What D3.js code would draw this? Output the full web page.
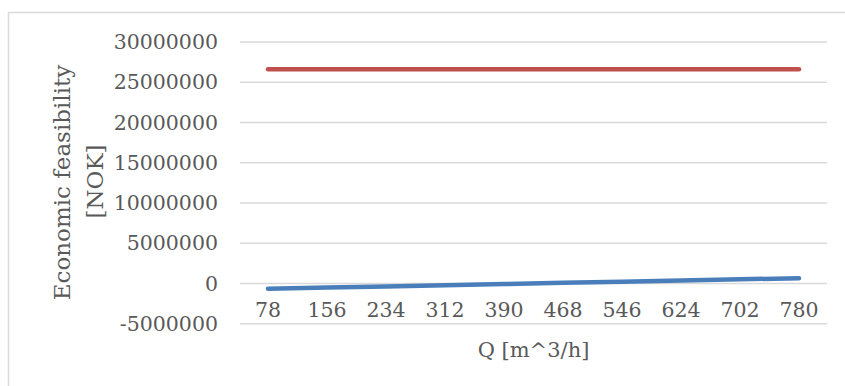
<!DOCTYPE html>
<html><head><meta charset="utf-8">
<script src="https://cdn.jsdelivr.net/npm/d3@7"></script>
<style>body{margin:0;background:#fff}svg{display:block}</style>
</head><body>
<script>
const categories = [78, 156, 234, 312, 390, 468, 546, 624, 702, 780];
const seriesBlue = [-660000, -513000, -367000, -220000, -73000, 73000, 220000, 367000, 513000, 660000];
const seriesRed = [26600000, 26600000, 26600000, 26600000, 26600000, 26600000, 26600000, 26600000, 26600000, 26600000];
const yTicks = [-5000000, 0, 5000000, 10000000, 15000000, 20000000, 25000000, 30000000];

const W = 845, H = 386;
const svg = d3.select("body").append("svg").attr("width", W).attr("height", H);
const font = "'DejaVu Serif', serif";
const txt = "#595959";

svg.append("rect").attr("x", 8.5).attr("y", 12.5).attr("width", 845).attr("height", 400)
  .attr("fill", "#fff").attr("stroke", "#d9d9d9").attr("stroke-width", 1.5);

const x = d3.scaleBand().domain(categories).range([238.5, 828.5]);
const y = d3.scaleLinear().domain([-5000000, 30000000]).range([323.7, 42]);

// gridlines
svg.append("g").selectAll("line").data(yTicks).join("line")
  .attr("x1", 240).attr("x2", 827)
  .attr("y1", d => y(d)).attr("y2", d => y(d))
  .attr("stroke", "#d9d9d9").attr("stroke-width", 1.5);

// y axis labels
const yAxis = d3.axisLeft(y).tickValues(yTicks).tickSize(0).tickPadding(0).tickFormat(d => String(d));
const gy = svg.append("g").attr("transform", "translate(218,0)").call(yAxis);
gy.select(".domain").remove();
gy.selectAll("text").attr("font-family", font).attr("font-size", 20.5).attr("fill", txt);

// x axis labels
const xAxis = d3.axisBottom(x).tickSize(0).tickPadding(0);
const gx = svg.append("g").attr("transform", "translate(0,302)").call(xAxis);
gx.select(".domain").remove();
gx.selectAll("text").attr("font-family", font).attr("font-size", 20.5).attr("fill", txt).attr("dy", "0.71em");

const line = d3.line().x((d, i) => x(categories[i]) + x.bandwidth() / 2).y(d => y(d));
svg.append("path").datum(seriesRed).attr("d", line).attr("fill", "none")
  .attr("stroke", "#c0504d").attr("stroke-width", 4.5).attr("stroke-linecap", "round");
svg.append("path").datum(seriesBlue).attr("d", line).attr("fill", "none")
  .attr("stroke", "#4a7ebb").attr("stroke-width", 4.5).attr("stroke-linecap", "round");

// titles
svg.append("text").attr("x", 533.5).attr("y", 357).attr("text-anchor", "middle")
  .attr("font-family", font).attr("font-size", 21).attr("fill", txt).text("Q [m^3/h]");
svg.append("text").attr("transform", "translate(70,182.5) rotate(-90)").attr("text-anchor", "middle")
  .attr("font-family", font).attr("font-size", 23).attr("fill", txt).text("Economic feasibility");
svg.append("text").attr("transform", "translate(103,181.5) rotate(-90)").attr("text-anchor", "middle")
  .attr("font-family", font).attr("font-size", 23).attr("fill", txt).text("[NOK]");
</script>
</body></html>
